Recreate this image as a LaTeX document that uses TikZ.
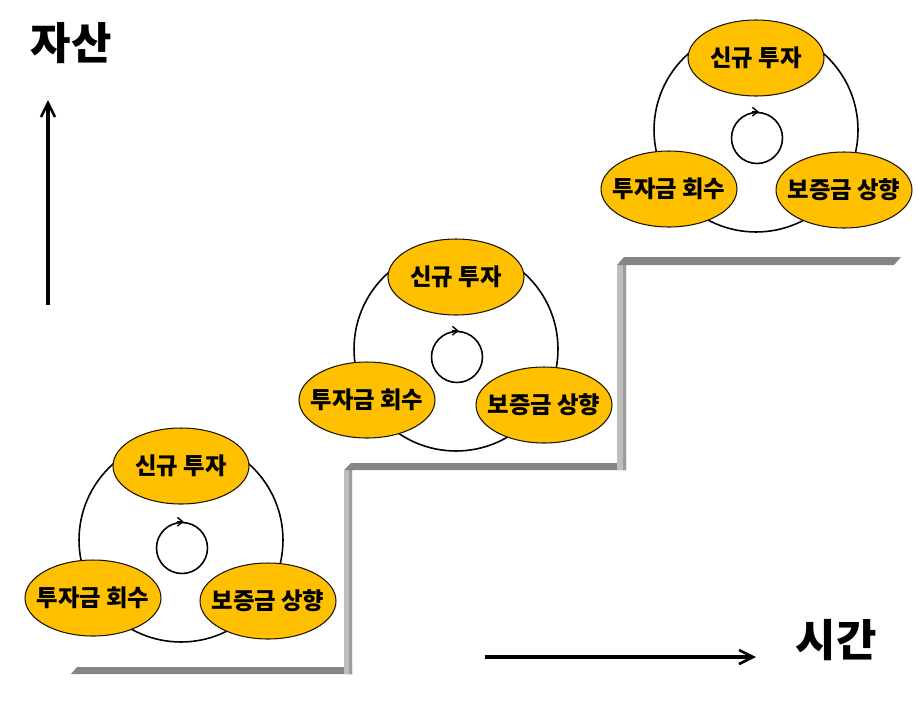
\documentclass[tikz,border=0pt]{standalone}
\usepackage{fontspec}
\IfFontExistsTF{Noto Sans CJK KR Black}
  {\newfontfamily\kr{Noto Sans CJK KR}[BoldFont={Noto Sans CJK KR Black}]}
  {\newfontfamily\kr{Noto Sans CJK KR}}
\usepackage{tikz}
\usetikzlibrary{shapes.geometric,arrows.meta}

\definecolor{gold}{HTML}{FFC000}
\definecolor{stepdark}{HTML}{858585}
\definecolor{steplight}{HTML}{BEBEBE}
\definecolor{stepedge}{HTML}{9C9C9C}

\tikzset{
  phase/.style={ellipse, draw=black!85!brown, line width=0.6pt, fill=gold, minimum width=2.72cm, minimum height=1.52cm, inner xsep=-6pt, inner ysep=0pt, font=\kr\bfseries\fontsize{13.3}{15}\selectfont},
  ring/.style={circle, draw, line width=0.9pt, minimum size=4.08cm, inner sep=0pt},
  spin/.style={circle, draw, line width=0.9pt, minimum size=1.02cm, inner sep=0pt},
  axis/.style={line width=1.8pt, -{Straight Barb[length=8pt,width=8pt,line width=1.5pt]}},
  axislabel/.style={font=\kr\bfseries\fontsize{25}{30}\selectfont}
}

\begin{document}
\begin{tikzpicture}[x=0.02cm, y=-0.02cm]
    \useasboundingbox (0,0) rectangle (918,700);

    % stairs
    \fill[stepdark] (71,674) -- (77,667) -- (352,667) -- (352,674) -- cycle;
    \fill[steplight] (344,471) -- (352,463) -- (352,674) -- (344,674) -- cycle;
    \fill[stepedge] (349,466) -- (352,463) -- (352,674) -- (349,674) -- cycle;
    \fill[stepdark] (344,470) -- (351,463) -- (626,463) -- (626,470) -- cycle;
    \fill[steplight] (617,266) -- (626,257) -- (626,470) -- (617,470) -- cycle;
    \fill[stepedge] (623,260) -- (626,257) -- (626,470) -- (623,470) -- cycle;
    \fill[stepdark] (617,265) -- (624,257) -- (901,257) -- (894,265) -- cycle;

    % axes
    \coordinate (Ybot) at (48,305);
    \coordinate (Ytop) at (48,100);
    \coordinate (Xleft) at (485,657);
    \coordinate (Xright) at (756,657);
    \draw[axis] (Ybot) -- (Ytop);
    \draw[axis] (Xleft) -- (Xright);
    \node[axislabel] (Asset) at (71,43) {자산};
    \node[axislabel] (Time) at (836,640) {시간};

    % first cycle
    \node[ring] (Ring1) at (181,540) {};
    \node[spin] (Spin1) at (182,548) {};
    \draw[line width=0.8pt, -{Straight Barb[length=3pt,width=5pt]}] ([xshift=-3pt]Spin1.north) -- ([xshift=1pt]Spin1.north);
    \node[phase] (New1) at (181,466) {신규 투자};
    \node[phase] (Back1) at (93,598) {투자금 회수};
    \node[phase] (Dep1) at (268,601) {보증금 상향};

    % second cycle
    \node[ring] (Ring2) at (456,349) {};
    \node[spin] (Spin2) at (457,357) {};
    \draw[line width=0.8pt, -{Straight Barb[length=3pt,width=5pt]}] ([xshift=-3pt]Spin2.north) -- ([xshift=1pt]Spin2.north);
    \node[phase] (New2) at (456,277) {신규 투자};
    \node[phase] (Back2) at (367,400) {투자금 회수};
    \node[phase] (Dep2) at (544,405) {보증금 상향};

    % third cycle
    \node[ring] (Ring3) at (756,130) {};
    \node[spin] (Spin3) at (757,138) {};
    \draw[line width=0.8pt, -{Straight Barb[length=3pt,width=5pt]}] ([xshift=-3pt]Spin3.north) -- ([xshift=1pt]Spin3.north);
    \node[phase] (New3) at (756,58) {신규 투자};
    \node[phase] (Back3) at (669,189) {투자금 회수};
    \node[phase] (Dep3) at (844,190) {보증금 상향};
  \end{tikzpicture}
\end{document}
